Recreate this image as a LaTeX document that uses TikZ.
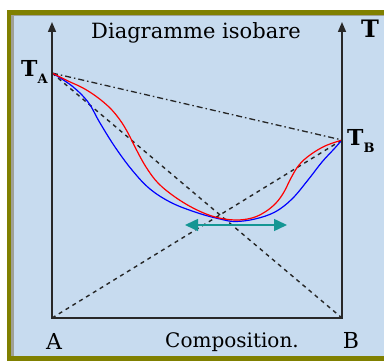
\documentclass[tikz,border=0pt]{standalone}
\usepackage{fontspec}
\setmainfont{DejaVu Serif}
\usetikzlibrary{arrows.meta}
\definecolor{bgblue}{RGB}{199,219,239}
\definecolor{frameolive}{RGB}{128,128,0}
\definecolor{framegray}{RGB}{160,160,150}
\definecolor{tealarrow}{RGB}{20,150,148}
\definecolor{axisgray}{RGB}{40,40,40}
\tikzset{
  axisline/.style={draw=axisgray, line width=1.6pt, {Triangle[length=10pt,width=8pt]}-{Triangle[length=10pt,width=8pt]}},
  dashline/.style={draw=black!85, line width=1.4pt, dash pattern=on 4pt off 4pt},
  dashdotline/.style={draw=black!85, line width=1.3pt, dash pattern=on 6pt off 3pt on 1.5pt off 3pt},
  dewcurve/.style={draw=red, line width=1.2pt},
  bubblecurve/.style={draw=blue, line width=1.2pt},
  lbl/.style={inner sep=0pt, font=\fontsize{20}{20}\selectfont},
  boldlbl/.style={inner sep=0pt, font=\fontsize{22}{22}\selectfont\bfseries},
}
\begin{document}
\begin{tikzpicture}[x=1pt,y=-1pt]
\useasboundingbox (0,0) rectangle (384,361);
\fill[bgblue] (0,0) rectangle (384,361);
% white outer margin
\fill[white] (0,0) rectangle (384,10);
\fill[white] (0,0) rectangle (7,361);
% olive frame strips (top, left, bottom)
\fill[frameolive] (7,10) rectangle (384,15);
\fill[frameolive] (7,10) rectangle (11,361);
\fill[frameolive] (11,356) rectangle (384,361);
% thin gray inner lines
\fill[framegray] (11,15) rectangle (384,16.5);
\fill[framegray] (11,15) rectangle (14,356);

\coordinate (Atop) at (52,22);
\coordinate (O) at (52,318);
\coordinate (E) at (342,318);
\coordinate (Btop) at (342,22);
\coordinate (TA) at (52,73);
\coordinate (TB) at (342,140);
\coordinate (AL) at (185,225);
\coordinate (AR) at (287,225);

% dashed construction lines
\draw[dashline] (O) -- (TB);
\draw[dashline] (TA) -- (E);
\draw[dashdotline] (TA) -- (TB);

% curves
\draw[bubblecurve] plot[smooth, tension=0.6] coordinates {(52,73) (72,86) (88,102) (100,123) (115,147) (132,170) (150,189) (172,203) (198,213) (220,219) (235,221.5) (255,219) (275,212) (292,199) (308,180) (322,162) (334,149) (342,140)};
\draw[dewcurve] plot[smooth, tension=0.6] coordinates {(52,73) (68,81) (83,88) (97,97) (110,108) (120,120) (128,133) (136,149) (146,167) (158,183) (175,197) (195,209) (215,217) (235,220) (252,218) (265,212) (276,203) (284,192) (291,178) (299,165) (310,155) (325,146) (342,140)};

% axes
\draw[axisline] (Atop) -- (O) -- (E) -- (Btop);

% double arrow
\draw[draw=tealarrow, line width=1.5pt, {Triangle[length=13pt,width=12pt]}-{Triangle[length=13pt,width=12pt]}] (AL) -- (AR);

% labels
\node[lbl, anchor=base, font=\fontsize{21}{21}\selectfont] (title) at (196,39) {Diagramme isobare};
\node[boldlbl, anchor=base west, font=\fontsize{24}{24}\selectfont\bfseries] (Tlab) at (361,38) {T};
\node[boldlbl, anchor=base west] (TAlab) at (21,77) {T\raisebox{-7pt}{\fontsize{13}{13}\selectfont A}};
\node[boldlbl, anchor=base west] (TBlab) at (347,146) {T\raisebox{-7pt}{\fontsize{13}{13}\selectfont B}};
\node[lbl, anchor=base, font=\fontsize{22}{22}\selectfont] (Alab) at (54,350) {A};
\node[lbl, anchor=base, font=\fontsize{22}{22}\selectfont] (Blab) at (351,349) {B};
\node[lbl, anchor=base] (comp) at (232,348) {Composition.};
\end{tikzpicture}
\end{document}
